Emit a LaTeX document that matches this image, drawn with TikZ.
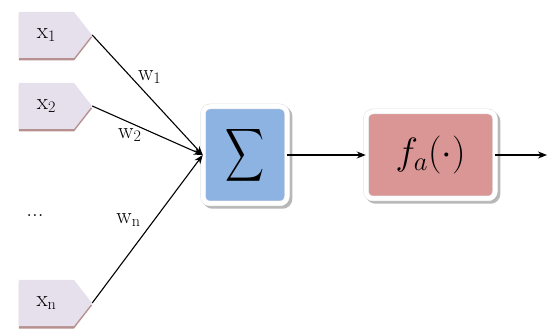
\documentclass[tikz,border=0pt]{standalone}
\usepackage{fix-cm}
\usepackage{fontspec}
\usetikzlibrary{shapes.symbols,shadows,arrows.meta}

\definecolor{inputfill}{HTML}{E5E0EC}
\definecolor{inputshadow}{HTML}{B7918F}
\definecolor{sumfill}{HTML}{8DB3E2}
\definecolor{actfill}{HTML}{D99694}
\definecolor{boxshadow}{HTML}{A6A6A6}

\tikzset{
    input/.style={signal, signal to=east, signal pointer angle=104,
        fill=inputfill, minimum width=73pt, minimum height=46pt, inner sep=0pt,
        drop shadow={shadow xshift=0pt, shadow yshift=-2.5pt, fill=inputshadow, opacity=1},
        font=\fontsize{23}{25}\selectfont},
    unitbox/.style={rounded corners=7pt, draw=black!12, double=white, double distance=4.5pt,
        line width=0.5pt, inner sep=0pt,
        drop shadow={shadow xshift=2.5pt, shadow yshift=-2.5pt, fill=boxshadow,
            draw=boxshadow, line width=5.5pt, opacity=0.8}},
    weight/.style={inner sep=1pt, font=\fontsize{23}{25}\selectfont},
    link/.style={-{Stealth[length=9pt,width=7pt]}, line width=1.1pt}
}

\begin{document}
\begin{tikzpicture}[x=1pt, y=1pt]
            \useasboundingbox (0,0) rectangle (548,329);

            \node[input] (x1) at (46.5, 294) {x\textsubscript{1}};
            \node[input] (x2) at (46.5, 223) {x\textsubscript{2}};
            \node[input] (xn) at (46.5, 26) {x\textsubscript{n}};
            \node[font=\fontsize{23}{25}\selectfont] (dots) at (35, 113) {...};

            \node[unitbox, fill=sumfill, minimum width=84pt, minimum height=97pt]
                (sum) at (245, 174) {\scalebox{2.7}[3.7]{$\displaystyle\sum$}};
            \node[unitbox, fill=actfill, minimum width=129pt, minimum height=87pt]
                (act) at (430.5, 174) {\fontsize{38}{42}\selectfont$f_a(\cdot)$};
            \coordinate (out) at (547, 174);

            \draw[link] (x1.east) to node[weight, pos=0.52, above=12pt] {w\textsubscript{1}} (sum.west);
            \draw[link] (x2.east) to node[weight, pos=0.34, below=4pt] {w\textsubscript{2}} (sum.west);
            \draw[link] (xn.east) to node[weight, pos=0.56, left=12pt] {w\textsubscript{n}} (sum.west);

            \draw[link] (sum.east) to (act.west);
            \draw[link] (act.east) to (out);
        \end{tikzpicture}
\end{document}
